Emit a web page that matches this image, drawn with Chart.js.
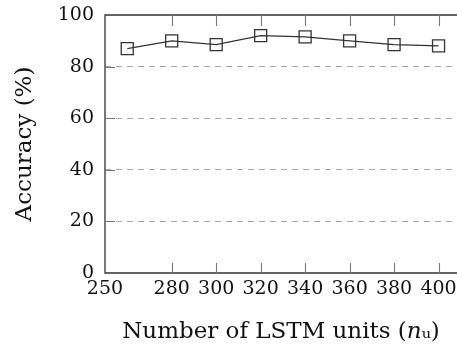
<!DOCTYPE html>
<html><head><meta charset="utf-8">
<script src="https://cdn.jsdelivr.net/npm/chart.js@4"></script>
<style>html,body{margin:0;padding:0;background:#fff}#wrap{width:457px;height:346px}</style>
</head><body><div id="wrap"><canvas id="c" width="457" height="346"></canvas></div>
<script>
const units = [260, 280, 300, 320, 340, 360, 380, 400];
const accuracy = [87, 90, 88.5, 92, 91.5, 90, 88.5, 88];
const xTickLabels = [250, 280, 300, 320, 340, 360, 380, 400];
const yTickLabels = [0, 20, 40, 60, 80, 100];

const FONT = '"DejaVu Serif", "Liberation Serif", serif';

const frame = {
  id: 'frame',
  afterDraw(chart) {
    const ctx = chart.ctx;
    const a = chart.chartArea;
    const sx = chart.scales.x, sy = chart.scales.y;
    ctx.save();
    ctx.setLineDash([]);
    ctx.strokeStyle = '#333';
    ctx.lineWidth = 1.3;
    ctx.beginPath();
    ctx.moveTo(a.right + 2, a.top); ctx.lineTo(a.left, a.top);
    ctx.lineTo(a.left, a.bottom); ctx.lineTo(a.right + 2, a.bottom);
    ctx.stroke();
    ctx.strokeStyle = '#777';
    ctx.lineWidth = 1.1;
    const L = 10;
    ctx.beginPath();
    for (const v of xTickLabels) {
      if (v === 250) continue;
      const x = Math.round(sx.getPixelForValue(v)) + 0.5;
      ctx.moveTo(x, a.bottom); ctx.lineTo(x, a.bottom - L);
      ctx.moveTo(x, a.top); ctx.lineTo(x, a.top + L + 1);
    }
    for (const v of yTickLabels) {
      if (v === 0 || v === 100) continue;
      const y = Math.round(sy.getPixelForValue(v)) + 0.5;
      ctx.moveTo(a.left, y); ctx.lineTo(a.left + L, y);
    }
    ctx.stroke();
    ctx.restore();
  }
};

new Chart(document.getElementById('c'), {
  type: 'line',
  data: {
    datasets: [{
      data: units.map((u, i) => ({x: u, y: accuracy[i]})),
      borderColor: '#333',
      borderWidth: 1.2,
      pointStyle: 'rect',
      pointRadius: 8.5,
      pointBackgroundColor: 'rgba(255,255,255,0)',
      pointBorderColor: '#333',
      pointBorderWidth: 1.3,
      tension: 0
    }]
  },
  options: {
    responsive: false,
    animation: false,
    layout: {autoPadding: false, padding: {left: 0, right: 0, top: 15, bottom: 0}},
    plugins: {legend: {display: false}, tooltip: {enabled: false}},
    scales: {
      x: {
        type: 'linear',
        min: 250, max: 408.3,
        afterBuildTicks(s) { s.ticks = xTickLabels.map(v => ({value: v})); },
        afterFit(s) { s.height = 73; s.paddingLeft = 0; s.paddingRight = 0; },
        grid: {display: false, drawTicks: false},
        border: {display: false},
        ticks: {color: '#111', font: {family: FONT, size: 19}, padding: 5, maxRotation: 0, autoSkip: false},
        title: {display: true, text: 'Number of LSTM units (𝑛ᵤ)', color: '#111', font: {family: FONT, size: 23}, padding: {top: 0, bottom: 0}}
      },
      y: {
        min: 0, max: 100,
        afterBuildTicks(s) { s.ticks = yTickLabels.map(v => ({value: v})); },
        afterFit(s) { s.width = 105; s.paddingTop = 0; s.paddingBottom = 0; },
        grid: {
          drawTicks: false,
          color: c => (c.tick && c.tick.value > 0 && c.tick.value < 100) ? '#aaa' : 'rgba(0,0,0,0)',
          lineWidth: 1
        },
        border: {display: false, dash: [6, 5]},
        ticks: {color: '#111', font: {family: FONT, size: 19}, padding: 11},
        title: {display: true, text: 'Accuracy (%)', color: '#111', font: {family: FONT, size: 23}, padding: {top: 11, bottom: 0}}
      }
    }
  },
  plugins: [frame]
});
</script>
</body></html>
